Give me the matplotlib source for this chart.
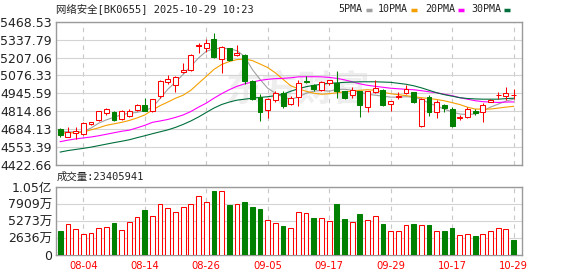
import matplotlib
matplotlib.use("Agg")
import matplotlib.pyplot as plt
import numpy as np
from matplotlib.lines import Line2D

plt.rcParams['font.family'] = ['DejaVu Sans', 'Noto Sans CJK SC']

title_text = "网络安全[BK0655] 2025-10-29 10:23"
vol_title = "成交量:23405941"

tick_dates = ["08-04", "08-14", "08-26", "09-05", "09-17", "09-29", "10-17", "10-29"]
tick_pos = [3, 11, 19, 27, 35, 43, 51, 59]

price_ticks = [4422.66, 4553.39, 4684.13, 4814.86, 4945.59, 5076.33, 5207.06, 5337.79, 5468.53]
vol_ticks = [0, 2636.47, 5272.94, 7909.41, 10545.88]   # 万
vol_tick_labels = ["0", "2636万", "5273万", "7909万", "1.05亿"]

open_ = [4688, 4627, 4655, 4650, 4722, 4748, 4802, 4807, 4759, 4783,
         4826, 4860, 4818, 4923, 5031, 5009, 5100, 5115, 5288, 5273,
         5343, 5197, 5276, 5228, 5228, 5035, 4920, 4826, 4898, 4951,
         4865, 4920, 5036, 5010, 4970, 5018, 5020, 4963, 4937, 4963,
         4843, 4956, 4970, 4865, 4918, 4951, 4955, 4706, 4922, 4811,
         4862, 4831, 4768, 4775, 4817, 4807, 4886, 4930, 4923, 4930]
high = [4692, 4699, 4700, 4735, 4737, 4818, 4840, 4815, 4825, 4830,
        4868, 4915, 4907, 5042, 5076, 5070, 5168, 5230, 5312, 5343,
        5385, 5290, 5280, 5300, 5235, 5040, 4939, 4915, 4963, 4965,
        4925, 5046, 5075, 5012, 5035, 5044, 5107, 4966, 4990, 4966,
        4965, 5042, 4980, 4890, 4955, 5010, 4958, 4910, 4930, 4895,
        4870, 4845, 4788, 4843, 4828, 4878, 4905, 4956, 4992, 4980]
low = [4625, 4624, 4615, 4645, 4712, 4745, 4790, 4745, 4750, 4775,
       4820, 4815, 4810, 4915, 5014, 4959, 5096, 5112, 5240, 5248,
       5207, 5096, 5180, 5220, 5011, 4896, 4742, 4766, 4886, 4838,
       4860, 4854, 5022, 4960, 4963, 5005, 4915, 4905, 4915, 4771,
       4812, 4946, 4855, 4818, 4908, 4940, 4875, 4700, 4783, 4763,
       4812, 4700, 4750, 4766, 4790, 4739, 4884, 4903, 4898, 4908]
close = [4640, 4667, 4668, 4730, 4733, 4814, 4830, 4754, 4815, 4818,
         4860, 4818, 4903, 5035, 5047, 5067, 5117, 5223, 5295, 5312,
         5211, 5284, 5192, 5240, 5035, 4908, 4812, 4903, 4946, 4850,
         4910, 5024, 5028, 4980, 5028, 5040, 4960, 4913, 4970, 4860,
         4961, 4988, 4860, 4888, 4925, 4980, 4884, 4903, 4807, 4880,
         4836, 4706, 4775, 4831, 4803, 4860, 4900, 4937, 4951, 4935]
# 成交量 (万)
volume = [3706, 4890, 4118, 3345, 3500, 4272, 4426, 4941, 3963, 5095,
          5970, 6948, 6124, 7977, 7359, 6742, 7514, 7977, 9212, 8183,
          9882, 9882, 7720, 7977, 8183, 7411, 7102, 5508, 5044, 4478,
          4272, 6640, 6485, 5713, 5816, 5250, 7925, 5558, 5095, 6330,
          5508, 6021, 4787, 3706, 3706, 4735, 4787, 4632, 4632, 3706,
          3706, 4169, 3191, 3345, 2934, 3345, 3706, 4272, 4118, 2341]

ma5 = [4667, 4665, 4663, 4667, 4692, 4728, 4752, 4771, 4790, 4800,
       4807, 4819, 4843, 4908, 4975, 5028, 5084, 5144, 5204, 5252,
       5271, 5275, 5271, 5257, 5214, 5120, 5048, 4983, 4947, 4918,
       4903, 4918, 4947, 4961, 4968, 4961, 4975, 4975, 4968, 4954,
       4939, 4932, 4925, 4918, 4918, 4921, 4918, 4903, 4874, 4853,
       4831, 4809, 4795, 4791, 4795, 4817, 4845, 4867, 4889, 4903]
ma10 = [4654, 4658, 4658, 4663, 4679, 4694, 4712, 4723, 4734, 4748,
        4766, 4788, 4824, 4856, 4882, 4910, 4932, 4968, 5019, 5069,
        5120, 5156, 5178, 5192, 5196, 5185, 5160, 5134, 5095, 5048,
        5001, 4979, 4961, 4947, 4939, 4943, 4950, 4957, 4961, 4968,
        4972, 4968, 4954, 4943, 4936, 4929, 4921, 4914, 4908, 4901,
        4891, 4878, 4864, 4845, 4831, 4831, 4831, 4838, 4845, 4851]
ma20 = [4593, 4604, 4613, 4620, 4627, 4636, 4647, 4658, 4669, 4677,
        4694, 4712, 4734, 4744, 4755, 4770, 4788, 4813, 4845, 4874,
        4910, 4943, 4972, 4997, 5015, 5028, 5040, 5048, 5053, 5055,
        5059, 5066, 5067, 5067, 5066, 5062, 5055, 5044, 5030, 5015,
        5004, 4997, 4990, 4983, 4979, 4975, 4972, 4965, 4957, 4950,
        4939, 4929, 4914, 4903, 4892, 4885, 4882, 4879, 4882, 4883]
ma30 = [4517, 4528, 4536, 4544, 4553, 4564, 4575, 4586, 4596, 4607,
        4622, 4636, 4651, 4665, 4679, 4697, 4719, 4744, 4773, 4806,
        4838, 4864, 4882, 4896, 4903, 4910, 4916, 4921, 4929, 4939,
        4961, 4979, 4994, 5004, 5012, 5019, 5022, 5026, 5028, 5030,
        5030, 5030, 5028, 5026, 5019, 5012, 5001, 4986, 4968, 4950,
        4936, 4925, 4914, 4908, 4905, 4903, 4903, 4903, 4907, 4910]

RED = '#ff0000'
GREEN = '#008000'
GRID = '#d4d4d4'
SPINE = '#9a9a9a'
W, H = 578, 276
LW = 0.75  # about one pixel

o = np.array(open_, float)
h = np.array(high, float)
l = np.array(low, float)
c = np.array(close, float)
x = np.arange(len(c))

up = c >= o
prev_c = np.concatenate([[o[0]], c[:-1]])
vol_up = c >= prev_c

fig = plt.figure(figsize=(W / 100, H / 100), dpi=100)
ax = fig.add_axes([56 / W, 1 - 165 / H, 466 / W, 143.3 / H])
ax2 = fig.add_axes([56 / W, 1 - 255.3 / H, 466 / W, 68.3 / H])

for a in (ax, ax2):
    a.set_xlim(-0.55, 60.1)
    for s in a.spines.values():
        s.set_color(SPINE)
        s.set_linewidth(1)
    a.set_xticks(tick_pos)
    a.grid(axis='x', color='#c8c8c8', linestyle=(0, (4, 4)), linewidth=0.8)
    a.grid(axis='y', color=GRID, linestyle='-', linewidth=0.8)
    a.set_axisbelow(True)
    a.tick_params(length=0)

# watermark
ax.text(0.52, 0.52, "东方财富", transform=ax.transAxes, ha='center', va='center',
        fontsize=26, fontweight='bold', color='#eeeeee', family='Noto Sans CJK SC', zorder=0.5)

# price panel
ax.set_ylim(price_ticks[0], price_ticks[-1])
ax.set_yticks(price_ticks)
ax.set_yticklabels([f"{v:.2f}" for v in price_ticks], fontsize=9, color='#222222')
ax.tick_params(axis='y', pad=3)
ax.set_xticklabels([])

edge = np.where(up, RED, GREEN)
face = np.where(up, 'white', GREEN)
body_lo = np.minimum(o, c)
body_hi = np.maximum(o, c)
ax.vlines(x, body_hi, h, colors=edge, linewidth=LW, zorder=3)
ax.vlines(x, l, body_lo, colors=edge, linewidth=LW, zorder=3)
ax.bar(x, np.maximum(body_hi - body_lo, 1.5), bottom=body_lo, width=0.64,
       facecolor=face, edgecolor=edge, linewidth=LW, zorder=4)

ax.plot(x, ma5, color='#a0a0a0', linewidth=0.8, zorder=2)
ax.plot(x, ma10, color='#f5a000', linewidth=0.8, zorder=2)
ax.plot(x, ma20, color='#ff00ff', linewidth=0.8, zorder=2)
ax.plot(x, ma30, color='#006f3c', linewidth=0.8, zorder=2)

# volume panel
ax2.set_ylim(0, vol_ticks[-1])
ax2.set_yticks(vol_ticks)
ax2.set_yticklabels(vol_tick_labels, fontsize=9, color='#222222')
ax2.tick_params(axis='y', pad=3)
ax2.set_xticklabels(tick_dates, fontsize=7.2, color=RED)
ax2.tick_params(axis='x', pad=4)
vedge = np.where(vol_up, RED, GREEN)
vface = np.where(vol_up, 'white', GREEN)
ax2.bar(x, volume, width=0.62, facecolor=vface, edgecolor=vedge, linewidth=LW, zorder=3)

# texts
mono = ['DejaVu Sans Mono', 'Noto Sans CJK SC']
fig.text(56 / W, 1 - 9 / H, title_text, family=mono, fontsize=7.5, color='#222222',
         ha='left', va='center')
fig.text(57 / W, 1 - 177 / H, vol_title, family=mono, fontsize=7.5, color='#222222',
         ha='left', va='center')

legend = [("5PMA", '#a0a0a0', 338.7), ("10PMA", '#f5a000', 378),
          ("20PMA", '#ff00ff', 425), ("30PMA", '#006f3c', 471)]
for name, col, px in legend:
    fig.text(px / W, 1 - 9 / H, name, family=mono, fontsize=7.2, color='#222222',
             ha='left', va='center')
    mx = px + len(name) * 6 + 3
    fig.add_artist(Line2D([mx / W, (mx + 6) / W], [1 - 9.5 / H, 1 - 9.5 / H],
                          color=col, linewidth=2.5, solid_capstyle='butt'))

fig.savefig("out.png", dpi=100)
